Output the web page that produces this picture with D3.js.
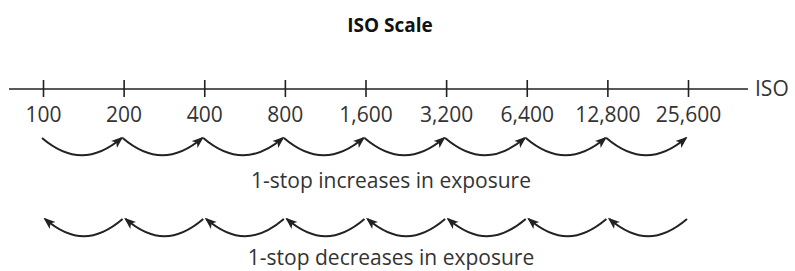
<!DOCTYPE html>
<html>
<head>
<meta charset="utf-8">
<script src="https://cdn.jsdelivr.net/npm/d3@7"></script>
<style>
  body { margin: 0; background: #fff; }
  svg { display: block; font-family: "Open Sans", sans-serif; }
</style>
</head>
<body>
<div id="chart"></div>
<script>
const isoValues = [100, 200, 400, 800, 1600, 3200, 6400, 12800, 25600];
const rows = ["1-stop increases in exposure", "1-stop decreases in exposure"];
const title = "ISO Scale";
const axisName = "ISO";

const width = 795;
const height = 271;
const ink = "#222";
const grey = "#333";

const svg = d3.select("#chart")
    .append("svg")
    .attr("width", width)
    .attr("height", height)
    .attr("viewBox", `0 0 ${width} ${height}`);

const x = d3.scaleLog()
    .base(2)
    .domain([100, 25600])
    .range([43, 688]);

const axisY = 89;

svg.append("text")
    .attr("x", 390)
    .attr("y", 32)
    .attr("text-anchor", "middle")
    .style("font-size", "19px")
    .style("font-weight", 700)
    .style("fill", "#111")
    .text(title);

// axis line + ticks
const gAxis = svg.append("g")
    .attr("transform", `translate(0,${axisY})`)
    .call(d3.axisBottom(x)
        .tickValues(isoValues)
        .tickFormat(d3.format(","))
        .tickSize(0)
        .tickPadding(0));

gAxis.select(".domain").remove();
gAxis.append("line")
    .attr("x1", 9).attr("x2", 748)
    .attr("stroke", ink).attr("stroke-width", 1.6);

gAxis.selectAll(".tick line")
    .attr("y1", -9).attr("y2", 8)
    .attr("stroke", ink).attr("stroke-width", 1.6);

gAxis.selectAll(".tick text")
    .attr("y", 33)
    .attr("dy", null)
    .style("font-family", "Open Sans")
    .style("font-size", "21px")
    .style("fill", grey);

svg.append("text")
    .attr("x", 755)
    .attr("y", axisY + 7)
    .style("font-size", "21px")
    .style("fill", grey)
    .text(axisName);

// arrowhead
const defs = svg.append("defs");
defs.append("marker")
    .attr("id", "head")
    .attr("viewBox", "0 0 12 10")
    .attr("refX", 10)
    .attr("refY", 5)
    .attr("markerWidth", 12)
    .attr("markerHeight", 10)
    .attr("markerUnits", "userSpaceOnUse")
    .attr("orient", "auto")
    .append("path")
    .attr("d", "M0,0.5 L12,5 L0,9.5 L3,5 Z")
    .attr("fill", ink);

const steps = d3.pairs(isoValues);
const sag = 23;   // control depth of the cubic (visible depth ~17px)
const pull = 27;  // horizontal reach of the control points

const swoop = (x0, x1, y) => {
    const dir = x1 > x0 ? 1 : -1;
    return `M${x0},${y} C${x0 + dir * pull},${y + sag} ${x1 - dir * pull},${y + sag} ${x1},${y}`;
};

// increases: left to right, arrow at the right end
svg.append("g")
    .selectAll("path")
    .data(steps)
    .join("path")
    .attr("d", ([a, b]) => swoop(x(a) - 1, x(b) - 2, 138))
    .attr("fill", "none")
    .attr("stroke", ink)
    .attr("stroke-width", 2)
    .attr("marker-end", "url(#head)");

// decreases: right to left, arrow at the left end
svg.append("g")
    .selectAll("path")
    .data(steps)
    .join("path")
    .attr("d", ([a, b]) => swoop(x(b) - 1, x(a) + 2, 219))
    .attr("fill", "none")
    .attr("stroke", ink)
    .attr("stroke-width", 2)
    .attr("marker-end", "url(#head)");

svg.selectAll(".row-label")
    .data(rows)
    .join("text")
    .attr("class", "row-label")
    .attr("x", 391)
    .attr("y", (d, i) => i === 0 ? 188 : 265)
    .attr("text-anchor", "middle")
    .style("font-size", "21px")
    .style("fill", grey)
    .text(d => d);
</script>
</body>
</html>
